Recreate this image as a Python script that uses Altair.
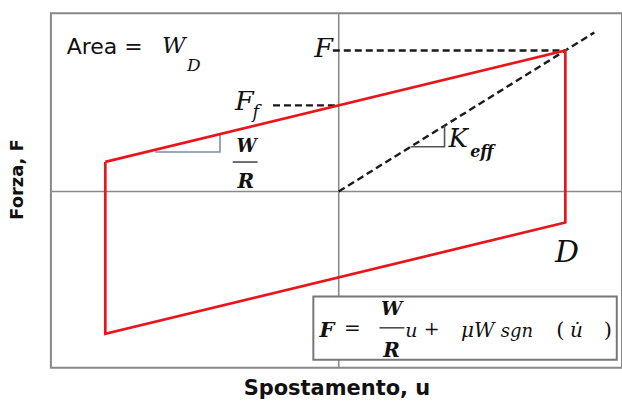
import altair as alt
import pandas as pd

# Friction pendulum hysteresis loop (normalised: D = 1, F = 1)
loop_u = [-1.03, 1.0, 1.0, -1.03, -1.03]
loop_F = [0.21, 1.0, -0.22, -1.01, 0.21]

# Dashed reference lines: F level, F_f level, effective stiffness secant
dash_x1 = [-0.026, -0.29, 0.0]
dash_x2 = [1.0, 0.0, 1.128]
dash_y1 = [1.0, 0.611, 0.0]
dash_y2 = [1.0, 0.611, 1.128]

# Slope triangles (W/R on the loop branch, K_eff on the secant)
tri_wr_x = [-0.81, -0.524, -0.524]
tri_wr_y = [0.28, 0.28, 0.40]
tri_k_x = [0.317, 0.467, 0.467]
tri_k_y = [0.317, 0.317, 0.467]

# Equation box corners
box_x = [-0.112, 1.227]
box_y = [-0.745, -1.193]

X_DOMAIN = [-1.27, 1.25]
Y_DOMAIN = [-1.25, 1.264]

SERIF = "DejaVu Serif"
SANS = "DejaVu Sans"
INK = "#111111"

X = alt.X(
    "x:Q",
    scale=alt.Scale(domain=X_DOMAIN, nice=False, zero=False),
    axis=alt.Axis(
        title="Spostamento, u", labels=False, ticks=False, domain=False, grid=False,
        titleFont=SANS, titleFontSize=21, titleFontWeight="bold", titleColor=INK,
        titleX=286, titleY=27, titleAlign="center", titleBaseline="alphabetic",
    ),
)
Y = alt.Y(
    "y:Q",
    scale=alt.Scale(domain=Y_DOMAIN, nice=False, zero=False),
    axis=alt.Axis(
        title="Forza, F", labels=False, ticks=False, domain=False, grid=False,
        titleFont=SANS, titleFontSize=18, titleFontWeight="bold", titleColor=INK,
        titleAngle=270, titleX=-33, titleY=166, titleAlign="center", titleBaseline="middle",
    ),
)
X2 = alt.X2("x2:Q")
Y2 = alt.Y2("y2:Q")


def segs(x1, y1, x2, y2):
    return pd.DataFrame({"x": x1, "y": y1, "x2": x2, "y2": y2})


# Coordinate cross through the origin
cross = alt.Chart(
    segs([X_DOMAIN[0], 0.0], [0.0, Y_DOMAIN[0]], [X_DOMAIN[1], 0.0], [0.0, Y_DOMAIN[1]])
).mark_rule(color="#8a8a8a", strokeWidth=1.6).encode(x=X, y=Y, x2=X2, y2=Y2)

dashed = alt.Chart(segs(dash_x1, dash_y1, dash_x2, dash_y2)).mark_rule(
    color="#1a1a1a", strokeWidth=2.4, strokeDash=[7, 4]
).encode(x=X, y=Y, x2=X2, y2=Y2)

tri_wr = alt.Chart(
    pd.DataFrame({"x": tri_wr_x, "y": tri_wr_y, "o": range(3)})
).mark_line(color="#7b8fa0", strokeWidth=1.6).encode(x=X, y=Y, order="o:O")

tri_k = alt.Chart(
    pd.DataFrame({"x": tri_k_x, "y": tri_k_y, "o": range(3)})
).mark_line(color="#555555", strokeWidth=1.6).encode(x=X, y=Y, order="o:O")

loop = alt.Chart(
    pd.DataFrame({"x": loop_u, "y": loop_F, "o": range(len(loop_u))})
).mark_line(color="#e8161c", strokeWidth=2.7, strokeJoin="miter").encode(
    x=X, y=Y, order="o:O"
)

box = alt.Chart(
    pd.DataFrame({"x": [box_x[0]], "x2": [box_x[1]], "y": [box_y[0]], "y2": [box_y[1]]})
).mark_rect(fill="white", stroke="#777777", strokeWidth=2).encode(x=X, y=Y, x2=X2, y2=Y2)

# Fraction bars (W over R)
bars = alt.Chart(
    segs([-0.468, 0.18], [0.209, -0.967], [-0.358, 0.29], [0.209, -0.967])
).mark_rule(color="#333333", strokeWidth=1.4).encode(x=X, y=Y, x2=X2, y2=Y2)


def label(txt, x, y, size, align="left", font=SERIF, style="italic", weight="normal"):
    df = pd.DataFrame({"x": [x], "y": [y], "t": [txt]})
    return alt.Chart(df).mark_text(
        align=align, baseline="alphabetic", fontSize=size, font=font,
        fontStyle=style, fontWeight=weight, color=INK,
    ).encode(x=X, y=Y, text="t:N")


labels = [
    label("Area =", -1.20, 0.974, 22, font=SANS, style="normal"),
    label("W", -0.78, 0.981, 23),
    label("D", -0.67, 0.855, 17),
    label("F", -0.025, 0.953, 27, align="right"),
    label("F", -0.375, 0.577, 27, align="right"),
    label("f", -0.38, 0.52, 18),
    label("K", 0.484, 0.315, 26),
    label("eff", 0.58, 0.244, 16, weight="bold"),
    label("W", -0.406, 0.28, 18, align="center", weight="bold"),
    label("R", -0.41, 0.025, 20, align="center", weight="bold"),
    label("D", 0.954, -0.499, 30),
    # F = (W/R) u + mu W sgn(u-dot)
    label("F", -0.085, -1.03, 21, weight="bold"),
    label("=", 0.06, -1.016, 20, align="center", style="normal"),
    label("W", 0.233, -0.875, 19, align="center", weight="bold"),
    label("R", 0.233, -1.171, 20, align="center", weight="bold"),
    label("u", 0.294, -1.03, 19),
    label("+", 0.41, -1.016, 19, align="center", style="normal"),
    label("μW", 0.54, -1.03, 20),
    label("sgn", 0.715, -1.03, 18),
    label("(", 0.96, -1.03, 21, style="normal"),
    label("u̇", 1.02, -1.03, 20),
    label(")", 1.17, -1.03, 21, style="normal"),
]

chart = alt.layer(cross, dashed, tri_wr, tri_k, loop, box, bars, *labels).properties(
    width=572,
    height=355,
    autosize=alt.AutoSizeParams(type="none"),
    padding={"left": 51, "top": 13, "right": 0, "bottom": 34},
    background="white",
).configure_view(stroke="#888888", strokeWidth=2)

chart.save("out.html", embed_options={"renderer": "svg", "actions": False})
